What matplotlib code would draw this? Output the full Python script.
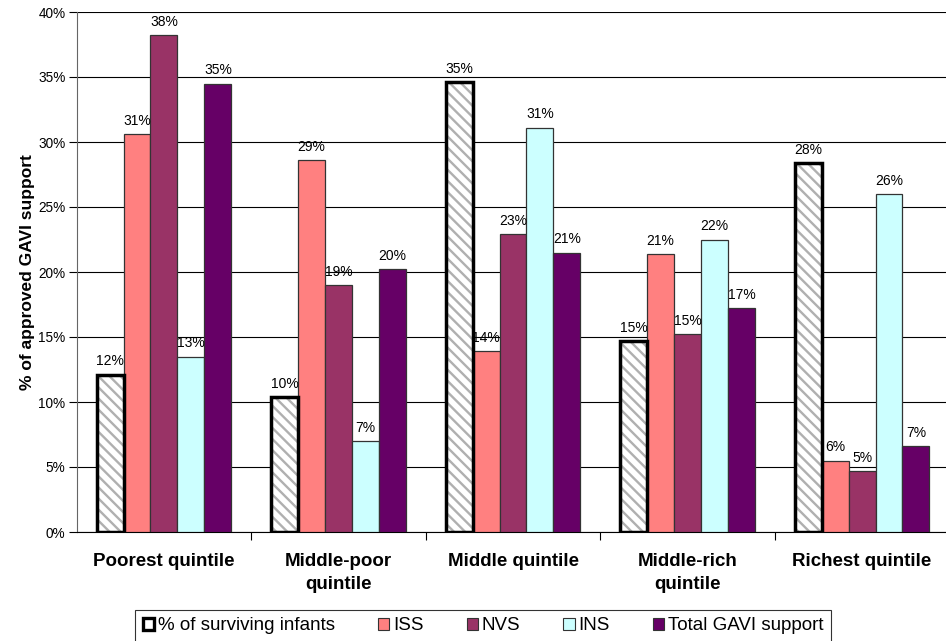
import matplotlib
matplotlib.use("Agg")
import matplotlib.pyplot as plt
import numpy as np
from matplotlib.patches import Patch
from matplotlib.ticker import PercentFormatter, FixedLocator

plt.rcParams['font.family'] = ['Liberation Sans', 'DejaVu Sans']
plt.rcParams['hatch.linewidth'] = 1.7

categories = ["Poorest quintile", "Middle-poor\nquintile", "Middle quintile",
              "Middle-rich\nquintile", "Richest quintile"]
series_names = ["% of surviving infants", "ISS", "NVS", "INS", "Total GAVI support"]
surviving = [12.1, 10.4, 34.6, 14.7, 28.4]
iss = [30.6, 28.6, 13.9, 21.4, 5.5]
nvs = [38.2, 19.0, 22.9, 15.2, 4.7]
ins = [13.5, 7.0, 31.1, 22.5, 26.0]
total = [34.5, 20.2, 21.5, 17.2, 6.6]
labels_surv = ["12%", "10%", "35%", "15%", "28%"]
labels_iss = ["31%", "29%", "14%", "21%", "6%"]
labels_nvs = ["38%", "19%", "23%", "15%", "5%"]
labels_ins = ["13%", "7%", "31%", "22%", "26%"]
labels_total = ["35%", "20%", "21%", "17%", "7%"]

colors = ["white", "#FF8080", "#993366", "#CCFFFF", "#660066"]

fig = plt.figure(figsize=(9.46, 6.41), dpi=100)
ax = fig.add_axes([76.7/946, 1-532/641, (949.3-76.7)/946, (532-12)/641])

x = np.arange(len(categories))
w = 0.1545
offsets = (np.arange(5) - 2) * w

# hatched bars (surviving infants)
ax.bar(x + offsets[0], surviving, w, facecolor="white", edgecolor="#b0b0b0",
       hatch="\\\\\\", linewidth=0, zorder=3)
ax.bar(x + offsets[0], surviving, w, fill=False, edgecolor="black",
       linewidth=2.5, zorder=4)

all_vals = [surviving, iss, nvs, ins, total]
all_labels = [labels_surv, labels_iss, labels_nvs, labels_ins, labels_total]
for i in range(1, 5):
    ax.bar(x + offsets[i], all_vals[i], w, color=colors[i], edgecolor="#333333",
           linewidth=0.9, zorder=3)

for i in range(5):
    for xi, v, lab in zip(x + offsets[i], all_vals[i], all_labels[i]):
        ax.annotate(lab, (xi, v), xytext=(0, 4.5), textcoords="offset points",
                    ha="center", va="bottom", fontsize=10, zorder=5)

ax.set_xlim(-0.5, 4.5)
ax.set_ylim(0, 40)
ax.set_yticks(np.arange(0, 41, 5))
ax.yaxis.set_major_formatter(PercentFormatter(decimals=0))
ax.yaxis.grid(True, color="black", linewidth=0.8)
ax.set_axisbelow(True)
ax.tick_params(axis="y", labelsize=9.8, length=6, width=0.8, pad=2)

ax.set_xticks(x)
ax.set_xticklabels(categories, fontsize=13.5, fontweight="bold", linespacing=1.45)
ax.tick_params(axis="x", length=0, pad=15)
ax.xaxis.set_minor_locator(FixedLocator(np.arange(0.5, 4.5, 1.0)))
ax.tick_params(axis="x", which="minor", length=6, width=0.8)

for s in ["top", "right"]:
    ax.spines[s].set_visible(False)
ax.spines["left"].set_color("#666666")
ax.spines["bottom"].set_color("black")

ax.set_ylabel("% of approved GAVI support", fontsize=12.5, fontweight="bold", labelpad=2)

handles = [Patch(facecolor="white", edgecolor="black", linewidth=2.4)]
for i in range(1, 5):
    handles.append(Patch(facecolor=colors[i], edgecolor="#333333", linewidth=0.8))
leg = fig.legend(handles, series_names, loc="upper center",
                 bbox_to_anchor=(483/946, 1-610/641), ncol=5, fontsize=13.5,
                 frameon=True, fancybox=False, edgecolor="black",
                 handlelength=0.6, handleheight=0.6, handletextpad=0.2,
                 columnspacing=2.3, borderpad=0.4, borderaxespad=0.0)
leg.get_frame().set_linewidth(0.8)

fig.savefig("out.png", dpi=100)
